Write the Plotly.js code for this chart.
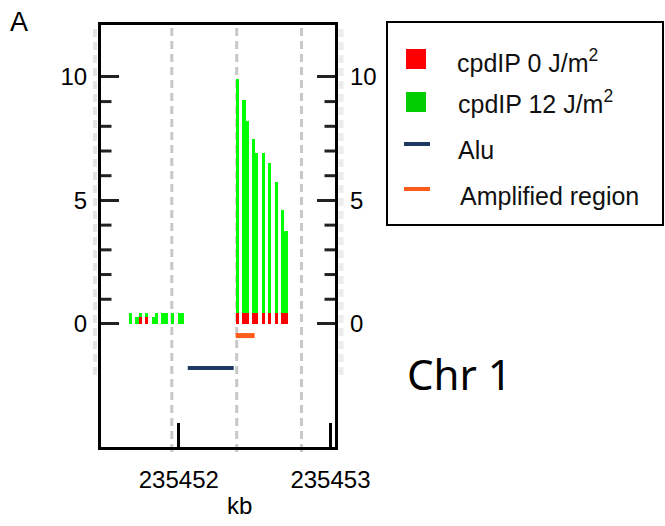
<!DOCTYPE html>
<html>
<head>
<meta charset="utf-8">
<script src="https://cdn.plot.ly/plotly-3.0.1.min.js"></script>
<style>html,body{margin:0;padding:0;background:#fff;}#chart{width:665px;height:526px;}</style>
</head>
<body>
<div id="chart"></div>
<script>
// ---- data (kb positions of each bin, signal heights) ----
const binStart = [235451.671, 235451.711, 235451.737, 235451.776, 235451.822, 235451.842, 235451.882, 235451.947, 235451.993,
                  235452.375, 235452.414, 235452.441, 235452.480, 235452.500, 235452.546, 235452.586, 235452.632, 235452.671, 235452.691];
const binEnd   = [235451.691, 235451.737, 235451.757, 235451.796, 235451.842, 235451.862, 235451.928, 235451.967, 235452.033,
                  235452.395, 235452.441, 235452.461, 235452.500, 235452.520, 235452.566, 235452.605, 235452.651, 235452.691, 235452.717];
const cpd12 = [0.45, 0.3, 0.45, 0.45, 0.3, 0.45, 0.45, 0.45, 0.45,
               9.9, 9.05, 8.2, 7.5, 6.9, 6.9, 6.5, 5.75, 4.6, 3.75];
const cpd0  = [0, 0, 0.3, 0.3, 0, 0, 0, 0, 0,
               0.45, 0.45, 0.45, 0.45, 0.45, 0.45, 0.45, 0.45, 0.45, 0.45];
const aluX = [235452.059, 235452.362];
const aluY = [-1.78, -1.78];
const ampX = [235452.375, 235452.500];
const ampY = [-0.47, -0.47];
const xTickVals = [235452, 235453];
const xTickText = ['235452', '235453'];
const yTickVals = [0, 5, 10];
const yMinorVals = [1, 2, 3, 4, 6, 7, 8, 9];
const gridX = [235451.954, 235452.382, 235452.809];
const legendNames = ['cpdIP 0 J/m<sup>2</sup>', 'cpdIP 12 J/m<sup>2</sup>', 'Alu', 'Amplified region'];

const centers = binStart.map((s, i) => (s + binEnd[i]) / 2);
const widths = binStart.map((s, i) => binEnd[i] - s);

const FONT = 'Liberation Sans, Arial, sans-serif';
const RED = '#ff0000', GREEN = '#00ff00', LEGGREEN = '#00cc00', ALU = '#1f3a60', AMP = '#ff5b1a', TICK = '#222';

// plot area in pixels: left 101, width 234, bottom 447, height 422
const L = 101, W = 234, B = 447, H = 422;
const px = v => (v - L) / W;
const py = v => (B - v) / H;

const YR = [-4.98, 12.1];

const minorMarker = {symbol: 'line-ew-open', size: 15, color: TICK, line: {color: TICK, width: 3}};

const traces = [
  {type: 'bar', x: centers, y: cpd12, width: widths, marker: {color: GREEN, line: {width: 0}}, name: legendNames[1], showlegend: false, hoverinfo: 'skip'},
  {type: 'bar', x: centers, y: cpd0, width: widths, marker: {color: RED, line: {width: 0}}, name: legendNames[0], showlegend: false, hoverinfo: 'skip'},
  {type: 'scatter', mode: 'lines', x: aluX, y: aluY, line: {color: ALU, width: 4}, name: legendNames[2], showlegend: false},
  {type: 'scatter', mode: 'lines', x: ampX, y: ampY, line: {color: AMP, width: 5}, name: legendNames[3], showlegend: false},
  // minor ticks: short horizontal marks at both frame edges (clipped to the plot area, so only the inner half shows)
  {type: 'scatter', mode: 'markers', xaxis: 'x2', x: yMinorVals.map(() => 0), y: yMinorVals,
    marker: minorMarker, showlegend: false, hoverinfo: 'skip', cliponaxis: true},
  {type: 'scatter', mode: 'markers', xaxis: 'x2', x: yMinorVals.map(() => 1), y: yMinorVals,
    marker: minorMarker, showlegend: false, hoverinfo: 'skip', cliponaxis: true},
  // anchor for the mirrored right axis
  {type: 'scatter', mode: 'markers', x: [235452], y: [0], yaxis: 'y2', marker: {opacity: 0}, showlegend: false, hoverinfo: 'skip'}
];

const shapes = gridX.map(g => ({type: 'line', layer: 'below', xref: 'x', yref: 'paper', x0: g, x1: g, y0: -0.012, y1: 1,
  line: {color: '#c8c8c8', width: 3, dash: '8px,5px'}}));
shapes.push({type: 'line', layer: 'below', xref: 'paper', yref: 'paper', x0: px(95), x1: px(95), y0: py(375), y1: py(27),
  line: {color: '#e4e4e4', width: 4, dash: '8px,5px'}});
shapes.push({type: 'line', layer: 'below', xref: 'paper', yref: 'paper', x0: px(341), x1: px(341), y0: py(375), y1: py(27),
  line: {color: '#ececec', width: 5, dash: '8px,5px'}});

// legend box and keys
shapes.push({type: 'rect', xref: 'paper', yref: 'paper', x0: px(387), x1: px(663), y0: py(225), y1: py(22),
  line: {color: '#000', width: 2}, fillcolor: '#fff'});
shapes.push({type: 'rect', xref: 'paper', yref: 'paper', x0: px(406), x1: px(426), y0: py(69), y1: py(49), line: {width: 0}, fillcolor: RED});
shapes.push({type: 'rect', xref: 'paper', yref: 'paper', x0: px(406), x1: px(426), y0: py(112), y1: py(92), line: {width: 0}, fillcolor: LEGGREEN});
shapes.push({type: 'line', xref: 'paper', yref: 'paper', x0: px(404), x1: px(430), y0: py(144), y1: py(144), line: {color: ALU, width: 4}});
shapes.push({type: 'line', xref: 'paper', yref: 'paper', x0: px(404), x1: px(430), y0: py(189), y1: py(189), line: {color: AMP, width: 4}});

const legendText = [[455, 60], [456, 101], [456, 149], [458, 195]];
const legendAnns = legendNames.map((t, i) => ({
  text: t, xref: 'paper', yref: 'paper', x: px(legendText[i][0]), y: py(legendText[i][1] + 1), xanchor: 'left', yanchor: 'middle',
  showarrow: false, font: {size: 25, family: FONT, color: '#111'}
}));

const tickFont = {size: 24, color: '#000', family: FONT};
const yMajor = {range: YR, tickmode: 'array', tickvals: yTickVals, ticks: 'inside', ticklen: 18, tickwidth: 3, tickcolor: TICK,
  showgrid: false, zeroline: false, tickfont: tickFont, fixedrange: true};

const layout = {
  width: 665, height: 526,
  margin: {l: L, r: 665 - L - W, t: B - H, b: 526 - B},
  paper_bgcolor: '#fff', plot_bgcolor: 'rgba(0,0,0,0)',
  font: {family: FONT, color: '#000'},
  barmode: 'overlay', bargap: 0,
  showlegend: false,
  xaxis: {range: [235451.487, 235453.03], tickmode: 'array', tickvals: xTickVals, ticktext: xTickText,
    ticks: 'inside', ticklen: 24, tickwidth: 3, tickcolor: '#000', showgrid: false, zeroline: false,
    showline: true, linewidth: 3, linecolor: '#000', mirror: true, ticklabelstandoff: 9,
    tickfont: tickFont, fixedrange: true},
  xaxis2: {overlaying: 'x', range: [0, 1], visible: false, fixedrange: true},
  yaxis: Object.assign({}, yMajor, {showline: true, linewidth: 3, linecolor: '#000', mirror: true, side: 'left', ticklabelstandoff: 6}),
  yaxis2: Object.assign({}, yMajor, {overlaying: 'y', side: 'right', showline: false, ticklabelstandoff: 14}),
  shapes: shapes,
  annotations: [
    {text: 'A', xref: 'paper', yref: 'paper', x: px(19), y: py(22), xanchor: 'center', yanchor: 'middle', showarrow: false, font: {size: 27, family: FONT, color: '#000'}},
    {text: 'kb', xref: 'paper', yref: 'paper', x: px(239), y: py(505), xanchor: 'center', yanchor: 'middle', showarrow: false, font: {size: 24, family: FONT, color: '#000'}},
    {text: 'Chr 1', xref: 'paper', yref: 'paper', x: px(459), y: py(373), xanchor: 'center', yanchor: 'middle', showarrow: false, font: {size: 42, family: 'Noto Sans, sans-serif', color: '#000'}}
  ].concat(legendAnns)
};

Plotly.newPlot('chart', traces, layout, {displayModeBar: false, staticPlot: true});
</script>
</body>
</html>
